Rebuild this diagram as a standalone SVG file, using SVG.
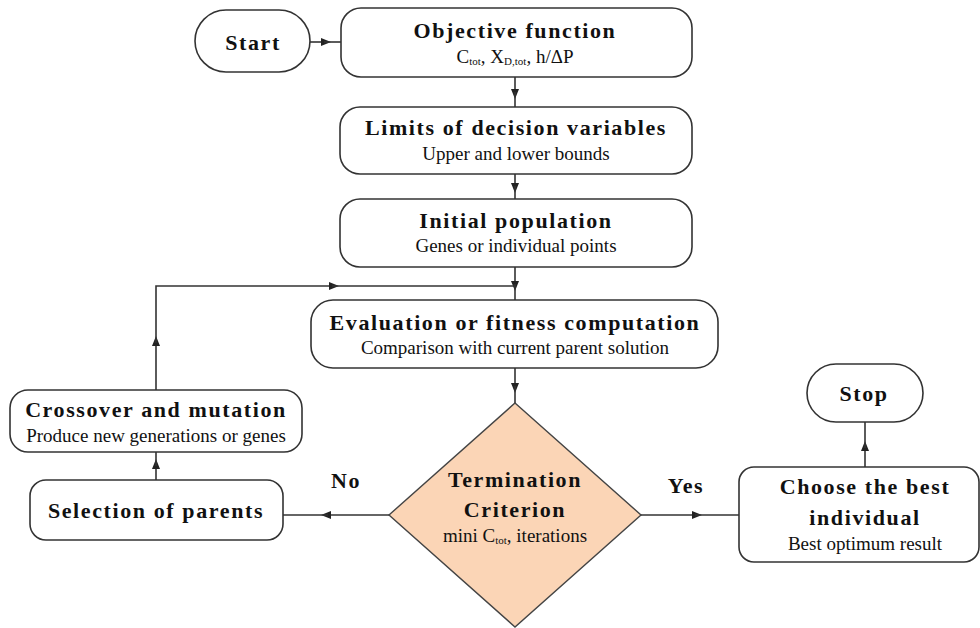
<svg xmlns="http://www.w3.org/2000/svg" width="980" height="628" viewBox="0 0 980 628">
<style>
.box{fill:#fff;stroke:#333;stroke-width:1.6}
.dia{fill:#FBD5B6;stroke:#444;stroke-width:1.4}
.ln{fill:none;stroke:#333;stroke-width:1.6}
.t{font-family:"Liberation Serif","Times New Roman",serif;font-weight:bold;fill:#111;text-anchor:middle;font-size:22px;letter-spacing:1.6px}
.s{font-family:"Liberation Serif","Times New Roman",serif;fill:#111;text-anchor:middle;font-size:19px}
.sub{font-size:11px}
</style>
<defs>
<marker id="ah" viewBox="0 0 10 10" refX="5" refY="5" markerWidth="10" markerHeight="10" markerUnits="userSpaceOnUse" orient="auto">
<path d="M0,1 L10,5 L0,9 Z" fill="#222"/>
</marker>
</defs>
<g id="connectors">
<path class="ln" d="M310,42 L326,42" marker-end="url(#ah)"/><path class="ln" d="M324,42 L341,42"/>
<path class="ln" d="M515,77 L515,94" marker-end="url(#ah)"/><path class="ln" d="M515,92 L515,107"/>
<path class="ln" d="M515,174 L515,188" marker-end="url(#ah)"/><path class="ln" d="M515,186 L515,199"/>
<path class="ln" d="M515,267 L515,286" marker-end="url(#ah)"/><path class="ln" d="M515,284 L515,300"/>
<path class="ln" d="M515,368 L515,388" marker-end="url(#ah)"/><path class="ln" d="M515,386 L515,403"/>
<path class="ln" d="M389,515 L326,515" marker-end="url(#ah)"/><path class="ln" d="M328,515 L283,515"/>
<path class="ln" d="M641,515 L697,515" marker-end="url(#ah)"/><path class="ln" d="M695,515 L739,515"/>
<path class="ln" d="M865,467 L865,446" marker-end="url(#ah)"/><path class="ln" d="M865,448 L865,422"/>
<path class="ln" d="M156,480 L156,464" marker-end="url(#ah)"/><path class="ln" d="M156,466 L156,452"/>
<path class="ln" d="M156,390 L156,341" marker-end="url(#ah)"/><path class="ln" d="M156,343 L156,286 L334,286" marker-end="url(#ah)"/><path class="ln" d="M332,286 L515,286"/>
</g>
<g id="start"><rect class="box" x="195" y="10" width="115" height="62" rx="31"/><text class="t" x="253" y="50">Start</text></g>
<g id="objective"><rect class="box" x="341" y="8" width="351" height="69" rx="20"/><text class="t" x="515" y="38">Objective function</text>
<text class="s" x="515" y="63">C<tspan class="sub" dy="2">tot</tspan><tspan dy="-2">, X</tspan><tspan class="sub" dy="2">D,tot</tspan><tspan dy="-2">, h/ΔP</tspan></text></g>
<g id="limits"><rect class="box" x="340" y="107" width="352" height="67" rx="20"/><text class="t" x="516" y="135">Limits of decision variables</text><text class="s" x="516" y="160">Upper and lower bounds</text></g>
<g id="initial"><rect class="box" x="340" y="199" width="352" height="68" rx="20"/><text class="t" x="516" y="228">Initial population</text><text class="s" x="516" y="252">Genes or individual points</text></g>
<g id="evaluation"><rect class="box" x="311" y="300" width="407" height="68" rx="22"/><text class="t" x="515" y="330">Evaluation or fitness computation</text><text class="s" x="515" y="354">Comparison with current parent solution</text></g>
<g id="termination"><polygon class="dia" points="515,403 641,515 515,627 389,515"/>
<text class="t" x="515" y="487">Termination</text><text class="t" x="515" y="517">Criterion</text>
<text class="s" x="515" y="542">mini C<tspan class="sub" dy="2">tot</tspan><tspan dy="-2">, iterations</tspan></text></g>
<g id="crossover"><rect class="box" x="10" y="390" width="292" height="62" rx="18"/><text class="t" x="156" y="417">Crossover and mutation</text><text class="s" x="156" y="442">Produce new generations or genes</text></g>
<g id="selection"><rect class="box" x="30" y="480" width="253" height="60" rx="16"/><text class="t" x="156" y="518">Selection of parents</text></g>
<g id="choose"><rect class="box" x="739" y="467" width="240" height="95" rx="15"/><text class="t" x="865" y="494">Choose the best</text><text class="t" x="865" y="525">individual</text><text class="s" x="865" y="550">Best optimum result</text></g>
<g id="stop"><rect class="box" x="807" y="364" width="116" height="58" rx="29"/><text class="t" x="864" y="401">Stop</text></g>
<g id="labels"><text class="t" x="346" y="488">No</text><text class="t" x="686" y="493">Yes</text></g>
</svg>
